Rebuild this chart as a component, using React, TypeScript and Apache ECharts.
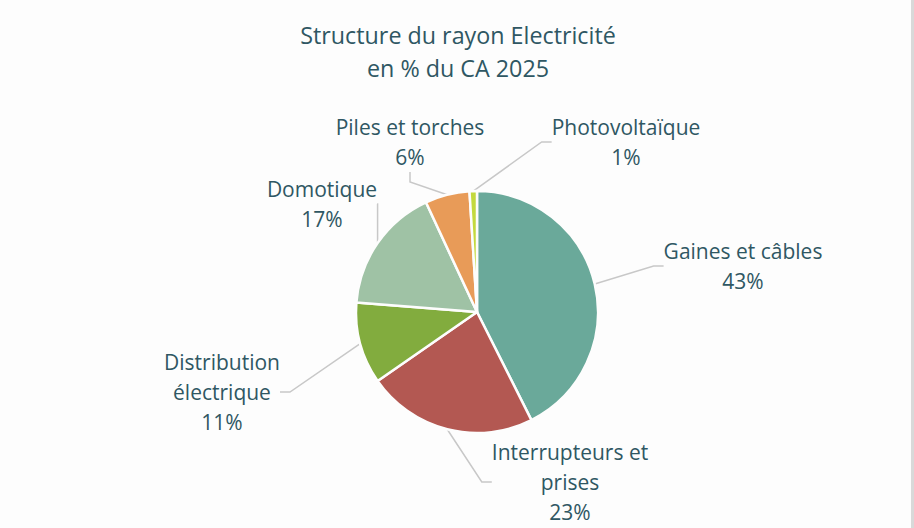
import { useEffect, useRef } from 'react';
import * as echarts from 'echarts';

// catégories du rayon et parts du CA (en %)
const categories = [
  'Gaines et câbles',
  'Interrupteurs et\nprises',
  'Distribution\nélectrique',
  'Domotique',
  'Piles et torches',
  'Photovoltaïque',
];
const shares = [43, 23, 11, 17, 6, 1];
const colors = ['#6aa99a', '#b35852', '#82ac3e', '#9fc2a5', '#e89b58', '#c3d93e'];

// centre des étiquettes (x, y) dans le cadre
const labelSpots = [
  [743, 266],
  [570, 482],
  [222, 392],
  [322, 204],
  [410, 142],
  [626, 142],
];

const TEXT = '#2f5763';
const FONT = '"Open Sans", Lato, sans-serif';

export default function App() {
  const chartRef = useRef<HTMLDivElement>(null);

  useEffect(() => {
    document.body.style.margin = '0';
    if (!chartRef.current) return;
    const chart = echarts.init(chartRef.current, null, { renderer: 'svg' });

    chart.setOption({
      animation: false,
      backgroundColor: '#fdfdfd',
      title: {
        text: 'Structure du rayon Electricité\nen % du CA 2025',
        left: 453,
        top: 13,
        textAlign: 'center',
        textStyle: {
          color: TEXT,
          fontFamily: FONT,
          fontSize: 23.3,
          fontWeight: 'normal',
          lineHeight: 33,
        },
      },
      series: [
        {
          type: 'pie',
          center: [477, 312],
          radius: 121,
          startAngle: 90,
          clockwise: true,
          itemStyle: { borderColor: '#fdfdfd', borderWidth: 2.5 },
          label: {
            show: true,
            color: TEXT,
            fontFamily: FONT,
            fontSize: 21,
            lineHeight: 30,
            align: 'center',
            formatter: (p: any) => `${p.name}\n${p.value}%`,
          },
          labelLine: {
            show: true,
            length: 20,
            length2: 10,
            lineStyle: { color: '#c8c8c8', width: 1.5 },
          },
          labelLayout: (p: any) => {
            const s = labelSpots[p.dataIndex];
            return { x: s[0], y: s[1], align: 'center', verticalAlign: 'middle' };
          },
          data: categories.map((name, i) => ({
            name,
            value: shares[i],
            itemStyle: { color: colors[i] },
          })),
        },
      ],
    });

    return () => chart.dispose();
  }, []);

  return (
    <div
      ref={chartRef}
      style={{ width: 911, height: 528, borderRight: '3px solid #d9d9d9' }}
    />
  );
}
